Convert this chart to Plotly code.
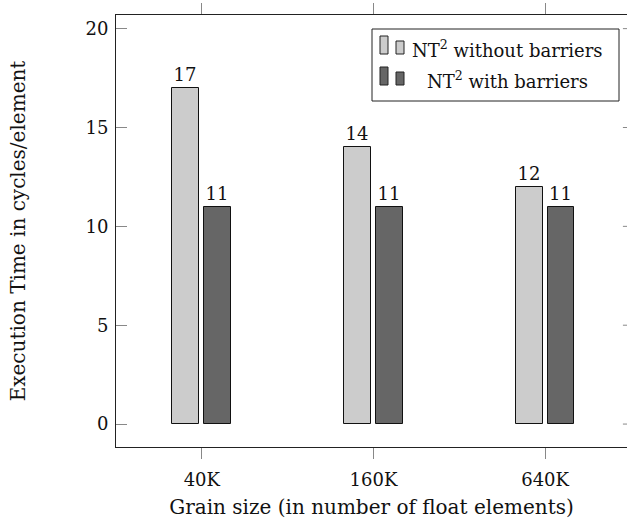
import plotly.graph_objects as go

categories = ["40K", "160K", "640K"]
without_barriers = [17, 14, 12]
with_barriers = [11, 11, 11]
series_names = ["NT<sup>2</sup> without barriers", "NT<sup>2</sup> with barriers"]
y_ticks = [0, 5, 10, 15, 20]

FONT = "DejaVu Serif"
light = "#cccccc"
dark = "#666666"

xpos = list(range(len(categories)))

fig = go.Figure()
fig.add_trace(go.Bar(
    x=xpos, y=without_barriers, width=0.156, offset=-0.171,
    marker=dict(color=light, line=dict(color="#111111", width=1)),
    text=[str(v) for v in without_barriers], textposition="outside",
    textfont=dict(family=FONT, size=18, color="#111"), cliponaxis=False,
    name=series_names[0], showlegend=False,
))
fig.add_trace(go.Bar(
    x=xpos, y=with_barriers, width=0.156, offset=0.015,
    marker=dict(color=dark, line=dict(color="#111111", width=1)),
    text=[str(v) for v in with_barriers], textposition="outside",
    textfont=dict(family=FONT, size=18, color="#111"), cliponaxis=False,
    name=series_names[1], showlegend=False,
))

# custom legend (pgfplots style)
def px(x):
    return (x - 116) / 511

def py(y):
    return (447 - y) / 432

fig.add_shape(type="rect", xref="paper", yref="paper",
              x0=px(372), x1=px(619), y0=py(101), y1=py(29),
              line=dict(color="#222", width=1), fillcolor="white", layer="above")
for i, (name, col) in enumerate(zip(series_names, [light, dark])):
    bot = 54 + i * 31
    fig.add_shape(type="rect", xref="paper", yref="paper",
                  x0=px(380), x1=px(388), y0=py(bot), y1=py(bot - 18),
                  line=dict(color="#222", width=1), fillcolor=col, layer="above")
    fig.add_shape(type="rect", xref="paper", yref="paper",
                  x0=px(396), x1=px(404), y0=py(bot), y1=py(bot - 13),
                  line=dict(color="#222", width=1), fillcolor=col, layer="above")
    fig.add_annotation(xref="paper", yref="paper",
                       x=px(507), y=py(bot - 5),
                       text=name, showarrow=False, xanchor="center", yanchor="middle",
                       font=dict(family=FONT, size=18, color="#111"))

# right-side mirrored y ticks (axis edge lies just beyond the image)
for v in y_ticks:
    fig.add_shape(type="line", xref="paper", yref="y", x0=0.992, x1=1.0, y0=v, y1=v,
                  line=dict(color="#888", width=1))

fig.update_layout(
    width=627, height=519,
    margin=dict(l=116, r=0, t=15, b=72),
    plot_bgcolor="white", paper_bgcolor="white",
    font=dict(family=FONT, size=16.5, color="#111"),
    bargap=0,
)
fig.update_xaxes(
    range=[-0.5, 2.477], tickvals=xpos, ticktext=categories,
    showline=True, linecolor="#222", linewidth=1, mirror="ticks",
    ticks="outside", ticklen=11, tickcolor="#888", tickwidth=1,
    showgrid=False, zeroline=False, ticklabelstandoff=5,
    title=dict(text="Grain size (in number of float elements)", standoff=12),
    tickfont=dict(family=FONT, size=18),
)
fig.update_yaxes(
    range=[-1.16, 20.69], tickvals=y_ticks,
    showline=True, linecolor="#222", linewidth=1,
    ticks="inside", ticklen=11, tickcolor="#888", tickwidth=1,
    showgrid=False, zeroline=False, ticklabelstandoff=3,
    title=dict(text="Execution Time in cycles/element", standoff=54),
    tickfont=dict(family=FONT, size=18),
)

fig.write_html("out.html")
